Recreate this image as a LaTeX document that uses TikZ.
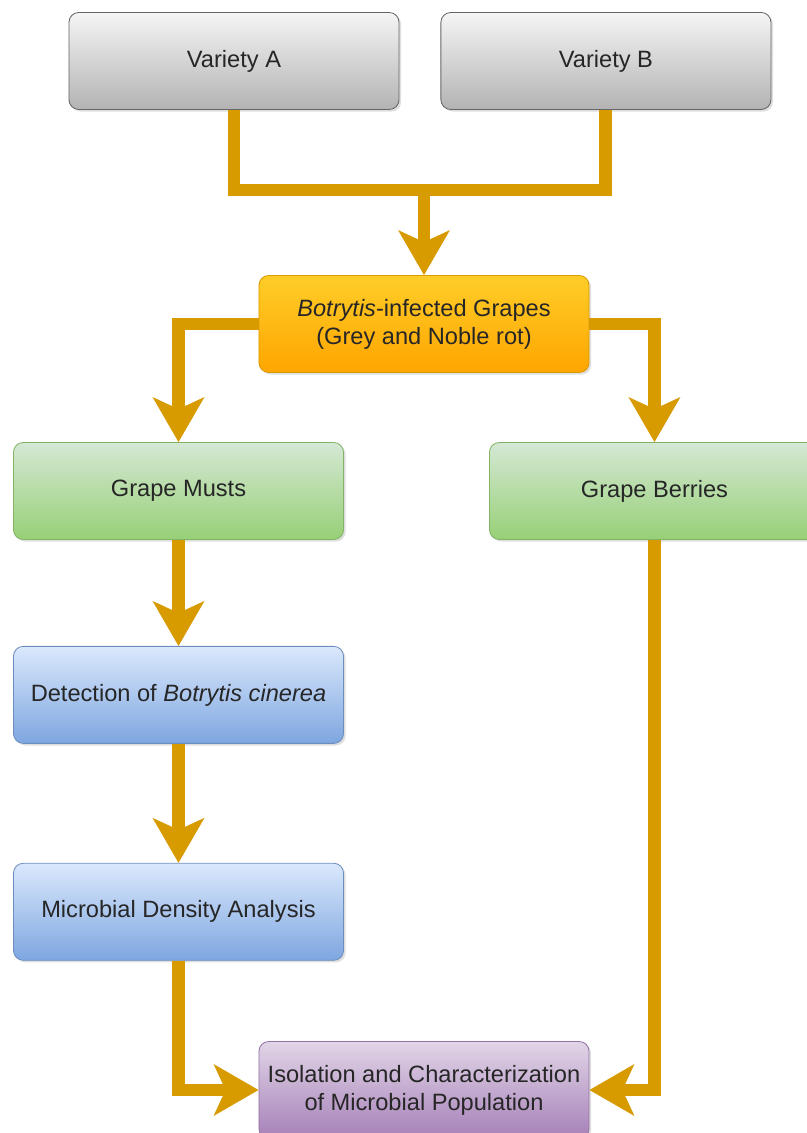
\documentclass[tikz,border=0pt]{standalone}
\usepackage{fontspec}
\setmainfont{Liberation Sans}
\usetikzlibrary{arrows.meta,positioning,shadows}
\definecolor{edgeorange}{HTML}{D79B00}
\definecolor{graytop}{HTML}{F5F5F5}
\definecolor{graybot}{HTML}{B3B3B3}
\definecolor{grayline}{HTML}{666666}
\definecolor{orangetop}{HTML}{FFCD28}
\definecolor{orangebot}{HTML}{FFA500}
\definecolor{greentop}{HTML}{D5E8D4}
\definecolor{greenbot}{HTML}{97D077}
\definecolor{greenline}{HTML}{82B366}
\definecolor{bluetop}{HTML}{DAE8FC}
\definecolor{bluebot}{HTML}{7EA6E0}
\definecolor{blueline}{HTML}{6C8EBF}
\definecolor{purpletop}{HTML}{E1D5E7}
\definecolor{purplebot}{HTML}{A680B8}
\definecolor{purpleline}{HTML}{9673A6}

\begin{document}
\begin{tikzpicture}[x=0.025cm, y=0.025cm,
    box/.style={draw, rounded corners=7pt, align=center, minimum width=8.25cm, minimum height=2.425cm, line width=0.6pt, font=\fontsize{16.8}{20}\selectfont, text=black!85, drop shadow={shadow xshift=1.5pt, shadow yshift=-1.5pt, opacity=0.25}},
    variety/.style={box, draw=grayline, top color=graytop, bottom color=graybot},
    infected/.style={box, draw=edgeorange, top color=orangetop, bottom color=orangebot},
    sample/.style={box, draw=greenline, top color=greentop, bottom color=greenbot},
    analysis/.style={box, draw=blueline, top color=bluetop, bottom color=bluebot},
    result/.style={box, draw=purpleline, top color=purpletop, bottom color=purplebot},
    flow/.style={draw=edgeorange, line width=9.2pt},
    arrow/.style={flow, -{Stealth[length=1.125cm, width=1.3cm, inset=0.3cm, line width=0pt]}}
]
\useasboundingbox (0,0) rectangle (807,1133);

\node[variety] (v1) at (234,1072) {Variety A};
\node[variety, right=1.025cm of v1] (v2) {Variety B};
\node[infected] (g0) at (424,809) {\textit{Botrytis}-infected Grapes\\(Grey and Noble rot)};

\node[sample] (g1) at (178.5,642) {Grape Musts};
\node[sample, right=3.625cm of g1] (g2) {Grape Berries};
\node[analysis, below=2.65cm of g1] (d1) {Detection of \textit{Botrytis cinerea}};
\node[analysis, below=2.975cm of d1] (d2) {Microbial Density Analysis};
\node[result] (s0) at (424,43) {Isolation and Characterization\\of Microbial Population};

\coordinate (j0) at (424,943);
\draw[flow] (v2.south) |- (j0);
\draw[arrow] (v1.south) |- (j0) -- (g0.north);
\draw[arrow] (g0.west) -| (g1.north);
\draw[arrow] (g0.east) -| (g2.north);
\draw[arrow] (g1) -- (d1);
\draw[arrow] (d1) -- (d2);
\draw[arrow] (d2.south) |- (s0.west);
\draw[arrow] (g2.south) |- (s0.east);
\end{tikzpicture}
\end{document}
